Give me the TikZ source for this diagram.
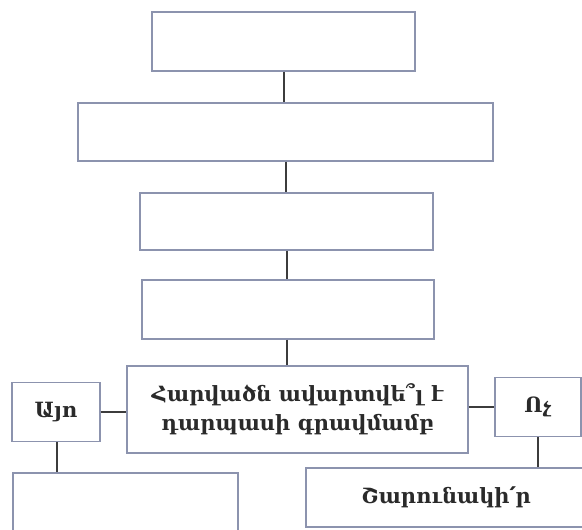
\documentclass[tikz,border=0pt]{standalone}
\usepackage{fontspec}
\setmainfont{DejaVu Serif}
\definecolor{boxline}{HTML}{8C93AE}
\definecolor{linkline}{HTML}{3C3C3C}
\definecolor{ink}{HTML}{2A2A2A}
\tikzset{
  blk/.style={draw=boxline, line width=1.3pt, fill=white, inner sep=0pt,
    text=ink, align=center, font=\fontsize{21}{29}\selectfont\bfseries},
  link/.style={draw=linkline, line width=1.8pt}
}

\begin{document}
\begin{tikzpicture}[x=1pt,y=-1pt]
  \useasboundingbox (0,0) rectangle (582,530);
  \clip (0,0) rectangle (582,530);

  \node[blk, minimum width=263pt, minimum height=59pt] (box1) at (283.5,41.5) {};
  \node[blk, minimum width=415pt, minimum height=58pt] (box2) at (285.5,132) {};
  \node[blk, minimum width=293pt, minimum height=57pt] (box3) at (286.5,221.5) {};
  \node[blk, minimum width=292pt, minimum height=59pt] (box4) at (288,309.5) {};
  \node[blk, minimum width=341pt, minimum height=87pt] (check) at (297.5,409.5)
    {Հարվածն ավարտվե՞լ է\\դարպասի գրավմամբ};
  \node[blk, minimum width=88pt, minimum height=59pt] (yes) at (56,412) {Այո};
  \node[blk, minimum width=86pt, minimum height=59pt] (no) at (538,407) {Ոչ};
  \node[blk, minimum width=225pt, minimum height=80pt] (yesnext) at (125.5,513) {};
  \node[blk, minimum width=280pt, minimum height=59pt] (goon) at (446,497.5)
    {Շարունակի՛ր};

  \draw[link] (box1.south -| 284,0) -- (box2.north -| 284,0);
  \draw[link] (box2.south -| 286,0) -- (box3.north -| 286,0);
  \draw[link] (box3.south -| 287,0) -- (box4.north -| 287,0);
  \draw[link] (box4.south -| 287,0) -- (check.north -| 287,0);
  \draw[link] (yes.east) -- (yes.east -| check.west);
  \draw[link] (check.east |- no.west) -- (no.west);
  \draw[link] (yes.south -| 57,0) -- (yesnext.north -| 57,0);
  \draw[link] (no.south) -- (goon.north -| no.south);
\end{tikzpicture}
\end{document}
